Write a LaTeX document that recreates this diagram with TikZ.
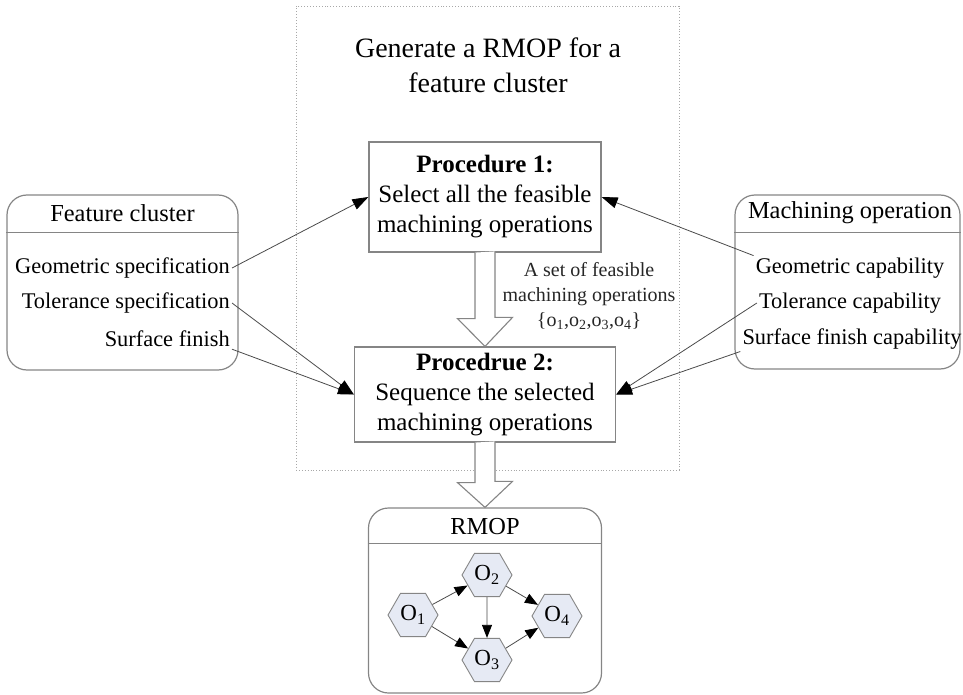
\documentclass[tikz,border=0pt]{standalone}
\usepackage{fontspec}
\setmainfont{Liberation Serif}
\usetikzlibrary{shapes.geometric,arrows.meta}
\definecolor{boxgray}{HTML}{858585}
\definecolor{linegray}{HTML}{4A4A4A}
\definecolor{framegray}{HTML}{A8A8A8}
\definecolor{hexfill}{HTML}{E6EAF4}
\tikzset{
  panel/.style={draw=boxgray,line width=1.2pt,rounded corners=20pt},
  procbox/.style={draw=boxgray,line width=1.2pt,align=center,inner sep=0pt,
    font=\fontsize{25}{30}\selectfont},
  head/.style={font=\fontsize{24.4}{28}\selectfont},
  item/.style={font=\fontsize{22.4}{26}\selectfont,inner sep=2pt},
  hexa/.style={regular polygon,regular polygon sides=6,minimum size=50pt,
    inner sep=0pt,draw=boxgray,line width=0.9pt,fill=hexfill,
    font=\fontsize{23}{23}\selectfont},
  hollow/.style={draw=boxgray,line width=1.1pt,fill=white}
}
\begin{document}
\begin{tikzpicture}[x=1pt,y=-1pt]
  \useasboundingbox (0,0) rectangle (963,695);

  \node (frame) [draw=framegray,dotted,line width=0.9pt,minimum width=383pt,minimum height=464pt] at (487.5,238) {};
  \node (title) [align=center,font=\fontsize{28}{35}\selectfont] at (488,65) {Generate a RMOP for a\\feature cluster};

  \begin{scope}[every node/.style={procbox}]
    \node (p1) [minimum width=232pt,minimum height=110pt] at (485,197)
      {\textbf{Procedure 1:}\\Select all the feasible\\machining operations};
    \node (p2) [minimum width=261pt,minimum height=95pt] at (485,394.5)
      {\textbf{Procedrue 2:}\\Sequence the selected\\machining operations};
  \end{scope}

  \node (set) [align=center,text=black!85,font=\fontsize{20}{25}\selectfont] at (589,296)
    {A set of feasible\\machining operations\\\{o\textsubscript{1},o\textsubscript{2},o\textsubscript{3},o\textsubscript{4}\}};

  \begin{scope}[every node/.style={panel}]
    \node (fc) [minimum width=231pt,minimum height=175pt] at (122.5,282.5) {};
    \node (mo) [minimum width=225pt,minimum height=174pt] at (847.5,282) {};
    \node (rm) [minimum width=233pt,minimum height=185pt] at (485,600.5) {};
  \end{scope}

  \draw[draw=boxgray,line width=1pt] (fc.west |- 0,232) -- (fc.east |- 0,232);
  \draw[draw=boxgray,line width=1pt] (mo.west |- 0,232) -- (mo.east |- 0,232);
  \draw[draw=boxgray,line width=1pt] (rm.west |- 0,543) -- (rm.east |- 0,543);

  \begin{scope}[every node/.style={head}]
    \node (fch) at (122.5,213) {Feature cluster};
    \node (moh) at (850,213) {Machining operation};
    \node (rmh) at (485,527) {RMOP};
  \end{scope}

  \begin{scope}[every node/.style={item,anchor=east}]
    \node (gs) at (232,268) {Geometric specification};
    \node (ts) at (232,303) {Tolerance specification};
    \node (sf) at (232,339) {Surface finish};
  \end{scope}

  \begin{scope}[every node/.style={item}]
    \node (gc) at (850,268) {Geometric capability};
    \node (tc) at (850,303) {Tolerance capability};
    \node (sfc) at (852,339) {Surface finish capability};
  \end{scope}

  \begin{scope}[every edge/.style={draw=linegray,line width=0.8pt,-{Triangle[length=16pt,width=11pt,black]}}]
    \path (gs.east) edge (p1.west);
    \path (ts.east) edge (p2.west);
    \path (sf.south east) edge (p2.west);
    \path (gc.north west) edge (p1.east);
    \path (tc.west) edge (p2.east);
    \path (sfc.south west) edge (p2.east);
  \end{scope}

  \draw[hollow] (p1.south) ++(-10,0) -- ++(0,66) -- ++(-17.5,0) -- (p2.north)
    -- ++(27.5,-29) -- ++(-17.5,0) -- ++(0,-66);
  \draw[hollow] (p2.south) ++(-10,0) -- ++(0,40) -- ++(-17.5,0) -- (rm.north)
    -- ++(27.5,-26) -- ++(-17.5,0) -- ++(0,-40);

  \begin{scope}[every node/.style={hexa}]
    \node (o1) at (413,615) {O\textsubscript{1}};
    \node (o2) at (487,575) {O\textsubscript{2}};
    \node (o3) at (487,660) {O\textsubscript{3}};
    \node (o4) at (557,616) {O\textsubscript{4}};
  \end{scope}

  \begin{scope}[every edge/.style={draw=linegray,line width=0.8pt,-{Triangle[length=13pt,width=10pt,black]}}]
    \path (o1) edge (o2);
    \path (o1) edge (o3);
    \path (o2) edge (o3);
    \path (o2) edge (o4);
    \path (o3) edge (o4);
  \end{scope}

\end{tikzpicture}
\end{document}
